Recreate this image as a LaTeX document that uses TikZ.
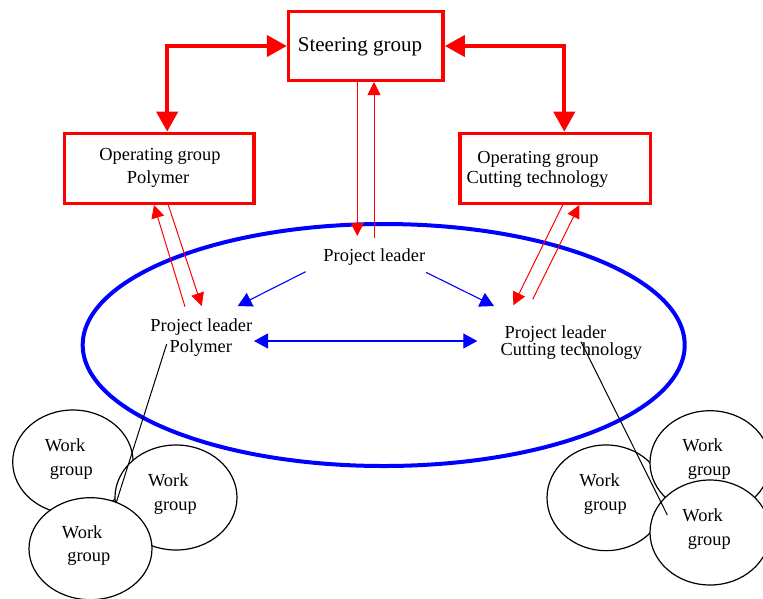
\documentclass[tikz,border=0pt]{standalone}
\usepackage{fontspec}
\setmainfont{Liberation Serif}
\usetikzlibrary{arrows.meta,shapes.geometric}
\begin{document}
\begin{tikzpicture}[x=1pt,y=-1pt,
  txt/.style={anchor=base,inner sep=0pt,font=\fontsize{18.4}{20}\selectfont},
  bigtxt/.style={anchor=base,inner sep=0pt,font=\fontsize{21}{24}\selectfont},
  redbox/.style={draw=red,line width=3.4pt,inner sep=0pt,fill=white},
  bigarrow/.style={red,line width=4pt,
    {Triangle[length=20pt,width=21pt]}-{Triangle[length=20pt,width=21pt]}},
  redarrow/.style={red,line width=1pt,-{Triangle[length=13pt,width=13pt]}},
  bluearrow/.style={blue,line width=1.1pt,-{Triangle[length=14pt,width=15pt]}},
  bluedouble/.style={blue,line width=1.1pt,
    {Triangle[length=14pt,width=15pt]}-{Triangle[length=14pt,width=15pt]}},
  wgroup/.style={ellipse,draw=black,line width=1.2pt,fill=white,inner sep=0pt},
  tie/.style={black,line width=1pt}]
\useasboundingbox (0,0) rectangle (763,598);

% project team
\draw[blue,line width=4pt] (383.7,345) ellipse [x radius=301,y radius=121];

% steering and operating groups
\node[redbox,minimum width=154.6pt,minimum height=68.6pt] (steer) at (365.85,46) {};
\node[bigtxt] (steerT) at (360,51.7) {Steering group};
\node[redbox,minimum width=189.6pt,minimum height=69.9pt] (opPoly) at (159.2,168.35) {};
\node[txt] (opPolyA) at (160,160) {Operating group};
\node[txt] (opPolyB) at (158,183.3) {Polymer};
\node[redbox,minimum width=190.6pt,minimum height=69.9pt] (opCut) at (555.3,168.35) {};
\node[txt] (opCutA) at (538,163.3) {Operating group};
\node[txt] (opCutB) at (537.5,183.3) {Cutting technology};

\draw[bigarrow] (steer.west) -| ([xshift=8pt]opPoly.north);
\draw[bigarrow] (steer.east) -| ([xshift=9pt]opCut.north);

% project leaders
\node[txt] (pl) at (374.3,261.7) {Project leader};
\node[txt] (plPolyA) at (201.3,331) {Project leader};
\node[txt] (plPolyB) at (200.8,352.7) {Polymer};
\node[txt] (plCutA) at (555.5,338.3) {Project leader};
\node[txt] (plCutB) at (571.3,355) {Cutting technology};

% reporting lines
\coordinate (plTopIn) at (357.3,236);
\coordinate (plTopOut) at (374,238.3);
\draw[redarrow] ([xshift=-8.55pt]steer.south) -- (plTopIn);
\draw[redarrow] (plTopOut) -- ([xshift=8.15pt]steer.south);

\coordinate (polyUpFrom) at (185,306.7);
\coordinate (polyUpTo) at (154,205);
\coordinate (polyDownFrom) at (168.3,205);
\coordinate (polyDownTo) at (201.7,306);
\draw[redarrow] (polyUpFrom) -- (polyUpTo);
\draw[redarrow] (polyDownFrom) -- (polyDownTo);

\coordinate (cutDownFrom) at (562.7,205);
\coordinate (cutDownTo) at (513.3,305.3);
\coordinate (cutUpFrom) at (532.7,299.3);
\coordinate (cutUpTo) at (579.3,205);
\draw[redarrow] (cutDownFrom) -- (cutDownTo);
\draw[redarrow] (cutUpFrom) -- (cutUpTo);

\coordinate (plLeftFrom) at (305.7,271.7);
\coordinate (plLeftTo) at (237.7,306);
\coordinate (plRightFrom) at (426,272.3);
\coordinate (plRightTo) at (494,306);
\draw[bluearrow] (plLeftFrom) -- (plLeftTo);
\draw[bluearrow] (plRightFrom) -- (plRightTo);
\coordinate (plMidL) at (254,341);
\coordinate (plMidR) at (477.3,341);
\draw[bluedouble] (plMidL) -- (plMidR);

% work groups, polymer side
\node[wgroup,minimum width=120.4pt,minimum height=104pt] (wg1) at (72.9,462) {};
\node[txt] (wg1A) at (65,451.7) {Work};
\node[txt] (wg1B) at (71.3,475) {group};
\node[wgroup,minimum width=122pt,minimum height=105pt] (wg2) at (176,497.5) {};
\node[txt] (wg2A) at (168.3,486.7) {Work};
\node[txt] (wg2B) at (175.3,510) {group};
\node[wgroup,minimum width=123pt,minimum height=102pt] (wg3) at (90.5,548.7) {};
\node[txt] (wg3A) at (82.2,538.3) {Work};
\node[txt] (wg3B) at (88.8,561.7) {group};

% work groups, cutting technology side
\node[wgroup,minimum width=118pt,minimum height=105.7pt] (wga) at (606,497.8) {};
\node[txt] (wgaA) at (599.7,486.7) {Work};
\node[txt] (wgaB) at (605.3,510) {group};
\node[wgroup,minimum width=120pt,minimum height=104pt] (wgb) at (710,462.7) {};
\node[txt] (wgbA) at (702.7,451.7) {Work};
\node[txt] (wgbB) at (709.3,475) {group};
\node[wgroup,minimum width=120pt,minimum height=105pt] (wgc) at (710,532.5) {};
\node[txt] (wgcA) at (702.7,521.7) {Work};
\node[txt] (wgcB) at (709.3,545) {group};

% ties from leaders to their work groups
\coordinate (tieLFrom) at (166.7,344);
\coordinate (tieRFrom) at (581,341.7);
\coordinate (tieRTo) at (667.3,515);
\draw[tie] (tieLFrom) -- (wg3.61);
\draw[tie] (tieRFrom) -- (tieRTo);
\end{tikzpicture}
\end{document}
